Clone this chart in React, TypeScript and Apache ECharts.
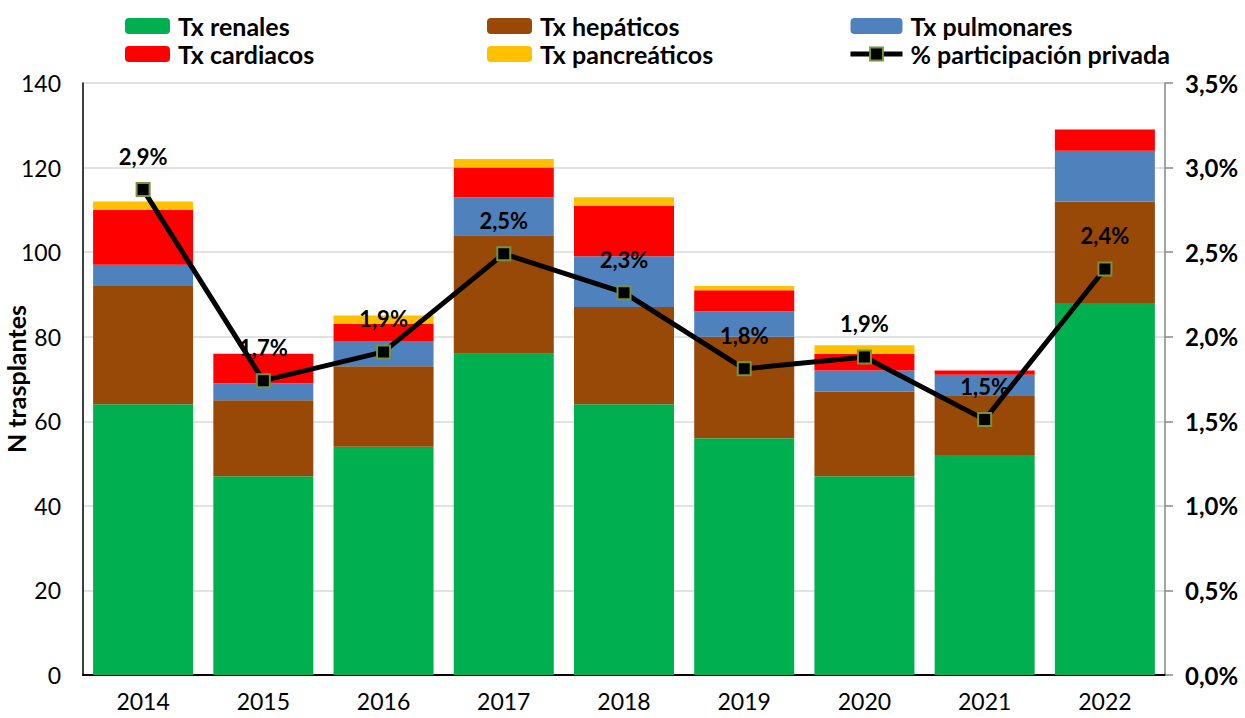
import React, { useEffect, useRef } from "react";
import * as echarts from "echarts";

const years = ["2014", "2015", "2016", "2017", "2018", "2019", "2020", "2021", "2022"];
const renales = [64, 47, 54, 76, 64, 56, 47, 52, 88];
const hepaticos = [28, 18, 19, 28, 23, 24, 20, 14, 24];
const pulmonares = [5, 4, 6, 9, 12, 6, 5, 5, 12];
const cardiacos = [13, 7, 4, 7, 12, 5, 4, 1, 5];
const pancreaticos = [2, 0, 2, 2, 2, 1, 2, 0, 0];
const participacion = [2.87, 1.74, 1.91, 2.49, 2.26, 1.81, 1.88, 1.51, 2.4];
const leftTicks = { min: 0, max: 140, interval: 20 };
const rightTicks = { min: 0, max: 3.5, interval: 0.5 };

const FONT = "Lato, 'Noto Sans', sans-serif";

export default function App() {
  const ref = useRef<HTMLDivElement>(null);
  useEffect(() => {
    if (!ref.current) return;
    const chart = echarts.init(ref.current, null, { renderer: "svg" });
    const barSeries = (name: string, data: number[], color: string) => ({
      name,
      type: "bar",
      stack: "tx",
      data,
      barWidth: 100,
      itemStyle: { color },
      emphasis: { disabled: true },
    });
    const legendCommon = {
      orient: "vertical",
      top: 13,
      padding: 0,
      itemWidth: 45,
      itemHeight: 16,
      itemGap: 2,
      textStyle: {
        fontFamily: FONT,
        fontSize: 25,
        lineHeight: 26,
        fontWeight: "bold",
        color: "#000",
        padding: [0, 0, 0, 3],
      },
      selectedMode: false,
    };
    chart.setOption({
      animation: false,
      textStyle: { fontFamily: FONT },
      legend: [
        { ...legendCommon, left: 125, data: ["Tx renales", "Tx cardiacos"] },
        { ...legendCommon, left: 487, data: ["Tx hepáticos", "Tx pancreáticos"] },
        {
          ...legendCommon,
          left: 848,
          itemWidth: 52,
          lineStyle: { width: 5 },
          data: ["Tx pulmonares", "% participación privada"],
        },
      ],
      grid: { left: 83, right: 80, top: 83, bottom: 43, containLabel: false, outerBoundsMode: "none" },
      xAxis: {
        type: "category",
        data: years,
        axisLine: { lineStyle: { color: "#000", width: 2 } },
        axisTick: { show: false },
        axisLabel: { fontFamily: FONT, fontSize: 23, color: "#000", margin: 14 },
      },
      yAxis: [
        {
          type: "value",
          ...leftTicks,
          name: "N trasplantes",
          nameLocation: "middle",
          nameGap: 55,
          nameRotate: 90,
          nameMoveOverlap: false,
          nameTextStyle: { fontFamily: FONT, fontSize: 25, fontWeight: "bold", color: "#000" },
          axisLine: { show: true, lineStyle: { color: "#000", width: 1.5 } },
          axisTick: { show: false },
          axisLabel: { fontFamily: FONT, fontSize: 23, color: "#000", margin: 22 },
          splitLine: { lineStyle: { color: "#d9d9d9", width: 1.5 } },
        },
        {
          type: "value",
          ...rightTicks,
          position: "right",
          axisLine: { show: true, lineStyle: { color: "#888", width: 1.5 } },
          axisTick: { show: true, length: 8, lineStyle: { color: "#888", width: 1.5 } },
          axisLabel: {
            fontFamily: FONT,
            fontSize: 24,
            fontWeight: "bold",
            color: "#000",
            margin: 20,
            formatter: (v: number) => v.toFixed(1).replace(".", ",") + "%",
          },
          splitLine: { show: false },
        },
      ],
      series: [
        barSeries("Tx renales", renales, "#00B050"),
        barSeries("Tx hepáticos", hepaticos, "#984807"),
        barSeries("Tx pulmonares", pulmonares, "#4F81BD"),
        barSeries("Tx cardiacos", cardiacos, "#FF0000"),
        barSeries("Tx pancreáticos", pancreaticos, "#FFC000"),
        {
          name: "% participación privada",
          type: "line",
          yAxisIndex: 1,
          data: participacion,
          symbol: "rect",
          symbolSize: 13,
          lineStyle: { color: "#000", width: 5 },
          itemStyle: { color: "#000", borderColor: "#77933C", borderWidth: 2 },
          label: {
            show: true,
            position: "top",
            distance: 15,
            fontFamily: FONT,
            fontSize: 22,
            fontWeight: "bold",
            color: "#000",
            formatter: (p: any) => p.value.toFixed(1).replace(".", ",") + "%",
          },
          emphasis: { disabled: true },
          z: 10,
        },
      ],
    });
    return () => chart.dispose();
  }, []);
  return <div ref={ref} style={{ width: 1245, height: 718, position: "absolute", left: 0, top: 0 }} />;
}
